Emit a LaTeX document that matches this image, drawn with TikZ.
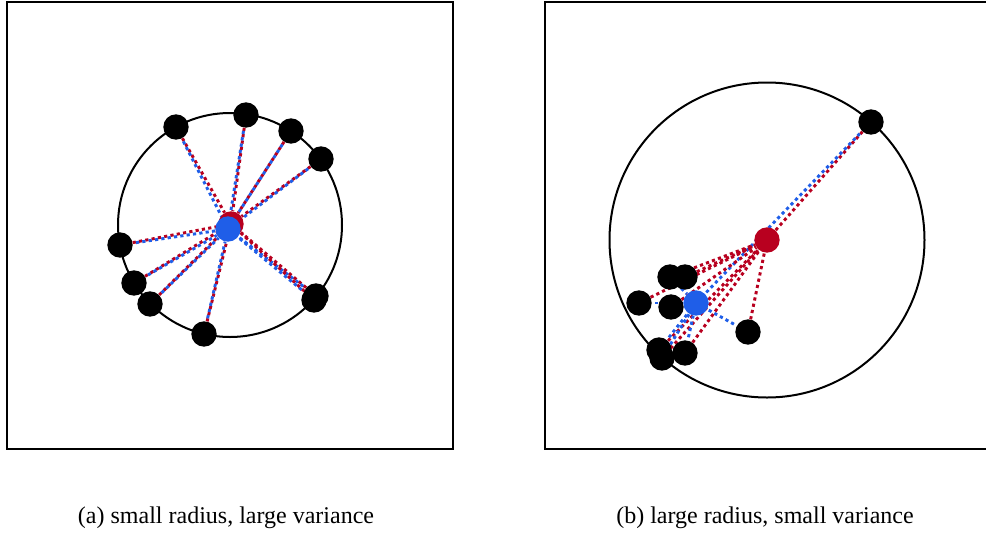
\documentclass[tikz,border=0pt]{standalone}
\usepackage{fontspec}
\setmainfont{Liberation Serif}
\usepackage{tikz}
\usetikzlibrary{backgrounds}
\definecolor{cred}{HTML}{B8001F}
\definecolor{cblue}{HTML}{1F5EE8}
\tikzset{
  frame/.style={draw=black,line width=1.5pt},
  ring/.style={draw=black,line width=1.5pt},
  pt/.style={circle,fill=black,inner sep=0pt,minimum size=19pt},
  rc/.style={circle,fill=cred,inner sep=0pt,minimum size=19pt},
  bc/.style={circle,fill=cblue,inner sep=0pt,minimum size=19pt},
  rl/.style={draw=cred,line width=2.2pt,dash pattern=on 2.4pt off 2.4pt},
  bl/.style={draw=cblue,line width=2.2pt,dash pattern=on 2.4pt off 2.4pt,dash phase=2.4pt},
  captxt/.style={font=\fontsize{18}{20}\selectfont,anchor=base},
}
\begin{document}
\begin{tikzpicture}[x=0.75pt,y=-0.75pt]
\useasboundingbox (0,0) rectangle (986,533);
\draw[frame] (7,2) rectangle (453,449);
\draw[frame] (986,2) -- (545,2) -- (545,449) -- (986,449);
\draw[ring] (230,225) circle[radius=112];
\draw[ring] (767,240) circle[radius=157.5];
% (a)
\foreach \n/\p in {1/{176,127},2/{246,115},3/{291,131},4/{321,159},5/{120,245},
  6/{134,283},7/{150,304},8/{204,334},9/{316,296},10/{314,300}}
  \node[pt] (a\n) at (\p) {};
\node[rc] (ared) at (231,224) {};
\node[bc] (ablue) at (228,229) {};
% (b)
\foreach \n/\p in {1/{871,122},2/{670,277},3/{685,277},4/{639,303},5/{671,307},
  6/{748,332},7/{659,350},8/{662,358},9/{685,353}}
  \node[pt] (b\n) at (\p) {};
\node[rc] (bred) at (767,240) {};
\node[bc] (bblue) at (696,303) {};
\begin{scope}[on background layer]
\foreach \n in {1,...,10} {
  \draw[rl] (a\n) -- (ared);
  \draw[bl] (a\n) -- (ablue);
}
\foreach \n in {1,...,9} {
  \draw[rl] (b\n) -- (bred);
  \draw[bl] (b\n) -- (bblue);
}
\end{scope}
\node[captxt] (capa) at (226,523) {(a) small radius, large variance};
\node[captxt] (capb) at (765,523) {(b) large radius, small variance};
\end{tikzpicture}
\end{document}
